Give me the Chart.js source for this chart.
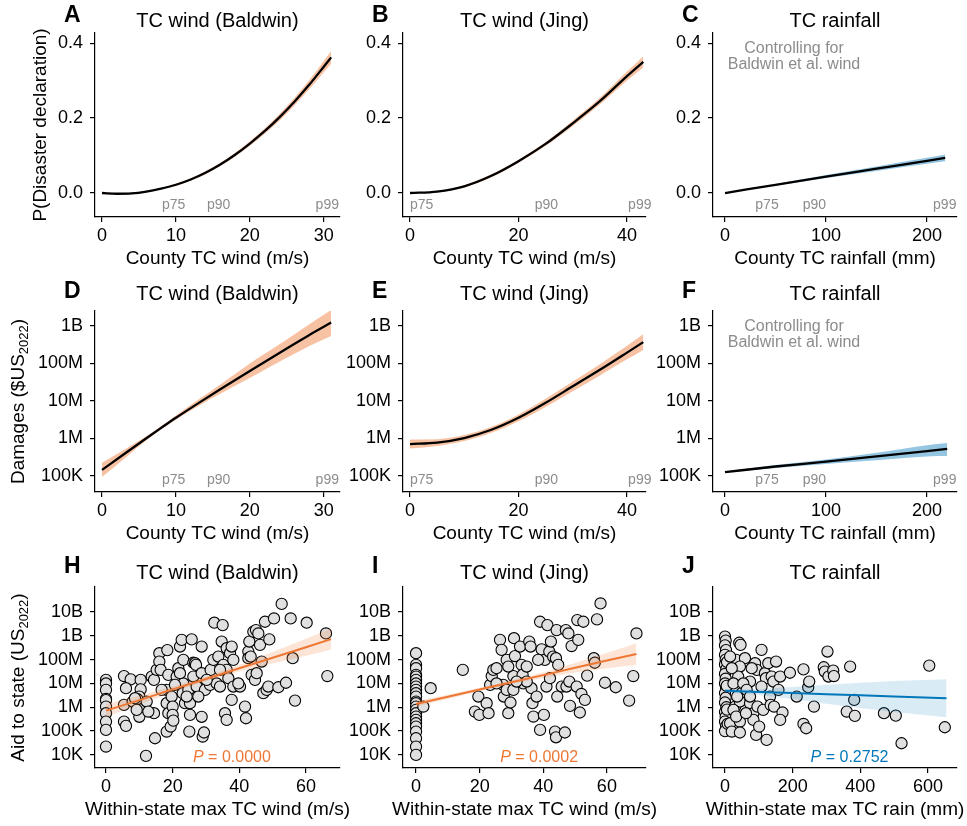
<!DOCTYPE html>
<html>
<head>
<meta charset="utf-8">
<script src="https://cdn.jsdelivr.net/npm/chart.js@4.4.1/dist/chart.umd.min.js"></script>
<style>
  html, body { margin: 0; padding: 0; background: #fff; }
  body { width: 967px; height: 826px; position: relative; overflow: hidden; }
  canvas { position: absolute; }
</style>
</head>
<body>
<script>
// ---------- values ----------

// row 1: P(disaster declaration) vs county exposure
const windBaldwin = [0, 2, 4, 6, 8, 10, 12, 14, 16, 18, 20, 22, 24, 26, 28, 30, 31];
const pDeclBaldwin = [0, -0.002, -0.001, 0.004, 0.012, 0.022, 0.036, 0.054, 0.076, 0.102, 0.132, 0.165, 0.202, 0.243, 0.288, 0.337, 0.362];
const pDeclBaldwinLo = [-0.002, -0.004, -0.003, 0.002, 0.010, 0.019, 0.033, 0.050, 0.072, 0.097, 0.126, 0.158, 0.193, 0.233, 0.276, 0.322, 0.345];
const pDeclBaldwinHi = [0.002, 0.000, 0.001, 0.006, 0.014, 0.025, 0.039, 0.058, 0.080, 0.107, 0.138, 0.172, 0.211, 0.253, 0.300, 0.352, 0.379];

const windJing = [0, 5, 10, 15, 20, 25, 30, 35, 40, 43];
const pDeclJing = [0, 0.004, 0.018, 0.046, 0.085, 0.131, 0.186, 0.245, 0.312, 0.350];
const pDeclJingLo = [-0.002, 0.002, 0.015, 0.042, 0.081, 0.126, 0.179, 0.236, 0.300, 0.335];
const pDeclJingHi = [0.002, 0.006, 0.021, 0.050, 0.089, 0.136, 0.193, 0.254, 0.324, 0.365];

const rainCounty = [0, 50, 100, 150, 200, 218];
const pDeclRain = [0, 0.022, 0.044, 0.065, 0.086, 0.094];
const pDeclRainLo = [-0.001, 0.020, 0.040, 0.059, 0.078, 0.085];
const pDeclRainHi = [0.001, 0.024, 0.048, 0.071, 0.094, 0.103];

// row 2: damages, stored as log10 of $US2022
const windBaldwinDam = [0, 3, 6, 8, 10, 13, 16, 20, 25, 28, 31];
const damBaldwinLog = [5.16, 5.585, 6.005, 6.28, 6.55, 6.935, 7.31, 7.80, 8.40, 8.755, 9.09];
const damBaldwinLoLog = [4.97, 5.46, 5.95, 6.235, 6.50, 6.86, 7.19, 7.61, 8.15, 8.46, 8.73];
const damBaldwinHiLog = [5.35, 5.70, 6.06, 6.325, 6.61, 7.03, 7.44, 8.00, 8.64, 9.04, 9.43];

const damJingLog = [5.85, 5.89, 6.01, 6.23, 6.55, 6.95, 7.39, 7.83, 8.29, 8.57];
const damJingLoLog = [5.73, 5.80, 5.93, 6.15, 6.46, 6.84, 7.26, 7.68, 8.11, 8.36];
const damJingHiLog = [5.97, 5.98, 6.09, 6.31, 6.64, 7.06, 7.52, 7.98, 8.47, 8.78];

const rainCountyDam = [0, 50, 100, 150, 200, 220];
const damRainLog = [5.10, 5.25, 5.38, 5.52, 5.66, 5.72];
const damRainLoLog = [5.09, 5.21, 5.32, 5.42, 5.52, 5.53];
const damRainHiLog = [5.11, 5.29, 5.44, 5.62, 5.82, 5.88];

// row 3: aid to state, [within-state max, log10 aid]
const aidWindBaldwin = [
  [0,7.15],[0,7.0],[0,6.73],[0,6.35],[0,6.3],[0,6.03],[0,5.75],[0,5.4],[0,5.05],[0,4.35],
  [5.4,7.31],[7.4,7.17],[6.0,6.8],[5.4,6.1],[5.4,5.4],[6.0,5.22],[10.4,7.15],[10.4,6.75],[10.0,6.45],[10.7,5.92],
  [10.0,5.6],[9.4,6.34],[8.0,6.24],[12.0,3.96],[13.7,7.29],[14.4,7.15],[14.4,5.75],[14.7,4.7],[15.2,7.57],[16.0,8.27],
  [16.0,7.92],[16.4,7.57],[18.4,8.4],[18.7,7.36],[18.2,6.73],[18.2,6.17],[18.7,5.75],[18.2,4.98],[19.4,5.19],[19.7,6.45],
  [20.0,6.03],[20.0,5.68],[20.2,5.44],[21.2,7.29],[21.7,7.64],[22.2,8.55],[22.7,8.83],[23.2,7.99],[23.2,7.0],[23.0,6.59],
  [23.7,6.17],[24.7,6.73],[25.2,6.17],[25.2,5.68],[25.0,4.98],[25.7,8.85],[26.2,7.87],[26.2,7.29],[26.7,7.85],[27.0,7.78],
  [27.2,6.87],[28.7,8.55],[28.7,7.43],[28.7,5.6],[29.0,4.77],[29.4,4.94],[29.7,6.73],[31.2,6.94],[31.4,7.57],[32.2,7.99],
  [32.5,9.55],[33.2,7.0],[33.7,8.13],[34.7,8.76],[35.0,9.45],[34.2,6.87],[35.2,7.78],[35.7,5.75],[36.2,5.47],[36.2,8.48],
  [36.2,7.57],[36.7,7.22],[37.2,8.27],[37.7,8.55],[37.7,6.31],[38.2,7.99],[38.2,6.87],[40.2,6.87],[41.7,6.03],[42.0,5.54],
  [42.7,8.34],[42.7,8.06],[43.0,8.76],[43.7,7.36],[44.2,9.17],[44.7,7.15],[45.0,9.24],[45.7,9.1],[46.2,8.62],[46.7,7.92],
  [47.2,6.59],[47.7,9.59],[48.2,6.73],[48.7,6.87],[49.0,8.85],[50.4,9.73],[51.7,6.84],[52.7,10.34],[54.0,7.03],[55.4,9.73],
  [56.0,8.06],[56.7,6.28],[60.2,9.55],[66.0,9.1],[66.4,7.31],
  [8.7,6.38],[12.2,6.24],[16.7,6.73],[20.7,6.94],[22.2,7.43],[24.2,6.45],[27.7,6.45],[30.2,7.15],[34.2,7.57],[39.7,7.0],
  [43.4,8.13],[45.2,7.43],[9.2,5.89],[12.7,5.82]
];
const aidWindJing = [
  [0,8.27],[0,7.78],[0,7.64],[0,7.36],[0,7.29],[0,7.15],[0,7.0],[0,6.87],[0,6.73],[0,6.59],[0,6.45],[0,6.24],
  [0,6.17],[0,6.03],[0,5.89],[0,5.75],[0,5.61],[0,5.47],[0,5.33],[0,5.19],[0,4.98],[0,4.7],[0,4.35],[0,4.0],
  [2.3,6.03],[4.6,6.8],[14.7,7.57],[18.5,5.82],[19.6,6.45],[19.9,5.68],[22.2,6.17],[22.8,5.75],[23.3,6.94],[23.8,7.31],
  [24.3,7.57],[25.3,7.64],[26.4,8.83],[26.9,8.41],[27.4,6.94],[27.6,6.45],[28.5,7.99],[28.5,6.73],[29.0,5.75],[29.7,6.2],
  [30.6,7.31],[30.8,8.9],[31.1,8.15],[32.7,8.55],[33.2,7.78],[33.5,7.36],[33.7,7.0],[34.8,7.71],[35.6,8.76],[36.0,8.55],
  [36.3,6.8],[36.6,6.17],[36.9,5.61],[37.9,6.45],[39.0,9.59],[39.0,5.05],[39.5,8.43],[40.2,5.68],[40.5,7.99],[41.0,6.87],
  [41.3,9.45],[41.9,8.34],[42.4,8.76],[43.1,8.13],[44.0,8.06],[44.2,9.24],[44.4,6.45],[43.7,4.98],[44.0,4.74],[44.7,7.78],
  [45.8,6.87],[46.8,4.94],[47.1,9.24],[47.3,6.87],[47.9,9.1],[48.2,7.08],[48.4,6.06],[48.9,8.57],[50.5,6.87],[50.7,9.66],
  [51.0,8.83],[51.5,5.78],[52.0,6.56],[52.6,9.59],[53.1,6.31],[53.8,7.33],[55.9,8.06],[56.2,7.87],[56.9,9.69],[58.0,10.36],
  [59.4,7.03],[62.8,6.84],[67.0,6.28],[68.3,7.31],[69.3,9.1],
  [30.6,6.73],[34.8,7.08],[25.3,7.0],[31.6,7.08],[29.0,7.71],[42.1,7.22],[38.4,7.99]
];
const aidRain = [
  [0,8.97],[2,8.8],[0,8.6],[3,8.4],[0,8.2],[2,8.0],[0,7.8],[4,7.6],[0,7.4],[2,7.2],[0,7.0],[3,6.8],[0,6.6],
  [2,6.4],[0,6.2],[4,6.0],[0,5.8],[2,5.6],[0,5.4],[3,5.2],[0,5.0],[6,7.9],[5,6.9],[6,5.9],[8,5.3],
  [42,8.71],[46,8.62],[33,7.99],[59,8.06],[44,7.71],[39,7.29],[25,7.0],[74,7.08],[49,6.59],[30,6.03],
  [44,6.24],[15,5.33],[44,5.4],[20,4.98],[44,4.94],[89,7.85],[94,7.57],[79,7.64],[74,6.17],[84,5.75],
  [84,5.47],[92,4.84],[96,6.03],[101,5.19],[108,8.41],[118,7.43],[121,7.22],[113,5.89],[123,4.63],[128,7.85],
  [133,6.45],[135,6.1],[138,7.29],[143,7.08],[145,6.03],[151,7.92],[158,6.73],[163,7.29],[170,5.78],[163,5.47],
  [192,7.45],[212,6.45],[232,7.59],[232,5.30],[240,5.12],[246,6.84],[249,7.08],[263,6.03],[292,7.68],[295,7.5],
  [303,8.34],[306,7.29],[320,7.54],[322,7.31],[360,5.82],[370,7.71],[382,6.31],[384,5.64],[470,5.75],[505,5.65],
  [522,4.49],[604,7.75],[650,5.16],
  [15,8.13],[20,7.64],[36,6.45],[54,7.0],[64,6.73],[25,5.89],[74,6.45],[108,6.87],[33,5.61],[62,5.75]
];

// fitted lines (log10 aid) and their bands
const fitWindBaldwinX = [0, 10, 20, 30, 40, 50, 60, 67.5];
const fitWindBaldwin = [5.86, 6.30, 6.75, 7.19, 7.64, 8.08, 8.52, 8.86];
const fitWindBaldwinLo = [5.59, 6.12, 6.63, 7.09, 7.50, 7.84, 8.16, 8.41];
const fitWindBaldwinHi = [6.13, 6.48, 6.87, 7.29, 7.78, 8.32, 8.88, 9.31];

const fitWindJingX = [0, 10, 20, 30, 40, 50, 60, 69.3];
const fitWindJing = [6.14, 6.44, 6.75, 7.05, 7.35, 7.66, 7.96, 8.24];
const fitWindJingLo = [6.02, 6.35, 6.68, 6.98, 7.23, 7.46, 7.64, 7.79];
const fitWindJingHi = [6.26, 6.53, 6.82, 7.12, 7.47, 7.86, 8.28, 8.69];

const fitRainX = [0, 100, 200, 300, 400, 500, 655];
const fitRain = [6.69, 6.64, 6.60, 6.55, 6.50, 6.45, 6.38];
const fitRainLo = [6.62, 6.52, 6.35, 6.15, 5.97, 5.80, 5.58];
const fitRainHi = [6.76, 6.76, 6.85, 6.95, 7.03, 7.10, 7.18];

const pValues = ['0.0000', '0.0002', '0.2752'];

// percentile markers
const pctLabels = ['p75', 'p90', 'p99'];
const pctWindBaldwin = [8.1, 14.2, 28.9];
const pctWindJing = [0, 23, 40.2];
const pctRain = [30, 77, 206];

// ticks
const probTicks = [0, 0.2, 0.4];
const damageTicks = [1e5, 1e6, 1e7, 1e8, 1e9];
const damageTickLabels = ['100K', '1M', '10M', '100M', '1B'];
const aidTicks = [1e4, 1e5, 1e6, 1e7, 1e8, 1e9, 1e10];
const aidTickLabels = ['10K', '100K', '1M', '10M', '100M', '1B', '10B'];
const windTicksCounty = [0, 10, 20, 30];
const windTicksJing = [0, 20, 40];
const rainTicksCounty = [0, 100, 200];
const windTicksState = [0, 20, 40, 60];
const rainTicksState = [0, 200, 400, 600];

// ---------- drawing ----------
const FONT = '"Liberation Sans", Arial, Helvetica, sans-serif';
const ORANGE = '#EE7733';
const BLUE = '#0077BB';
const GREY = '#8c8c8c';
Chart.defaults.font.family = FONT;
Chart.defaults.color = '#000';

const pts = (xs, ys) => xs.map((x, i) => ({ x, y: ys[i] }));
const ptsLog = (xs, ls) => xs.map((x, i) => ({ x, y: Math.pow(10, ls[i]) }));

function bandSets(lo, hi, line, lineColor, bandColor, smooth) {
  const mode = smooth ? 'monotone' : 'default';
  return [
    { data: lo, showLine: true, borderWidth: 0, pointRadius: 0, fill: false, order: 2, cubicInterpolationMode: mode },
    { data: hi, showLine: true, borderWidth: 0, pointRadius: 0, fill: '-1', backgroundColor: bandColor, order: 1, cubicInterpolationMode: mode },
    { data: line, showLine: true, borderColor: lineColor, borderWidth: smooth ? 2.3 : 2, pointRadius: 0, fill: false, order: 0, cubicInterpolationMode: mode }
  ];
}

function drawParts(ctx, parts, size) {
  // parts: [text, isSub]; centred on 0 along the baseline direction
  const widths = parts.map(([t, sub]) => {
    ctx.font = (sub ? Math.round(size * 0.68) : size) + 'px ' + FONT;
    return ctx.measureText(t).width;
  });
  let x = -widths.reduce((a, b) => a + b, 0) / 2;
  parts.forEach(([t, sub], i) => {
    ctx.font = (sub ? Math.round(size * 0.68) : size) + 'px ' + FONT;
    ctx.fillText(t, x, sub ? 5 : 0);
    x += widths[i];
  });
}

const panelText = {
  id: 'panelText',
  afterDraw(chart, args, o) {
    const { ctx, chartArea: a } = chart;
    const xs = chart.scales.x;
    const cx = (a.left + a.right) / 2;
    ctx.save();
    ctx.fillStyle = '#000';
    ctx.textBaseline = 'alphabetic';
    ctx.textAlign = 'left';
    ctx.font = 'bold 23px ' + FONT;
    ctx.fillText(o.letter, a.left - 31, a.top - o.letterDy);
    ctx.textAlign = 'center';
    ctx.font = '20px ' + FONT;
    ctx.fillText(o.title, cx, a.top - o.titleDy);
    ctx.font = '19px ' + FONT;
    ctx.fillText(o.xTitle, cx, a.bottom + 47);

    ctx.save();
    ctx.translate(a.left - o.yTitleDx, (a.top + a.bottom) / 2);
    ctx.rotate(-Math.PI / 2);
    ctx.textAlign = 'left';
    ctx.textBaseline = 'middle';
    drawParts(ctx, o.yTitle, 19);
    ctx.restore();

    ctx.fillStyle = GREY;
    if (o.pct) {
      ctx.font = '14px ' + FONT;
      ctx.textAlign = 'left';
      o.pct.forEach((v, i) => ctx.fillText(pctLabels[i], xs.getPixelForValue(v), a.bottom - 8));
    }
    if (o.note) {
      ctx.font = '16px ' + FONT;
      ctx.textAlign = 'center';
      ctx.fillText('Controlling for', a.left + 81, a.top + 20);
      ctx.fillText('Baldwin et al. wind', a.left + 81, a.top + 36);
    }
    if (o.pValue) {
      ctx.fillStyle = o.pColor;
      ctx.textAlign = 'left';
      let x = a.left + 0.4 * (a.right - a.left);
      ctx.font = 'italic 16px ' + FONT;
      ctx.fillText('P', x, a.bottom - 6);
      x += ctx.measureText('P').width;
      ctx.font = '16px ' + FONT;
      ctx.fillText(' = ' + o.pValue, x, a.bottom - 6);
    }
    ctx.restore();
  }
};

function axisCommon(ticks, fmt) {
  return {
    afterBuildTicks: s => { s.ticks = ticks.map(v => ({ value: v })); },
    grid: { drawOnChartArea: false, drawTicks: true, tickLength: 5, color: '#000', lineWidth: 1.2 },
    border: { display: true, color: '#000', width: 1.2 },
    ticks: { color: '#000', font: { size: 18 }, autoSkip: false, maxRotation: 0, callback: fmt }
  };
}

function makePanel(p) {
  const [L, T, R, B] = p.area;
  const w = R - L + 95 + 12, h = B - T + 33 + 58;
  const c = document.createElement('canvas');
  c.width = w; c.height = h;
  c.style.left = (L - 95) + 'px';
  c.style.top = (T - 33) + 'px';
  c.style.width = w + 'px';
  c.style.height = h + 'px';
  document.body.appendChild(c);

  const x = Object.assign(axisCommon(p.xTicks, v => String(v)), {
    type: 'linear', min: p.xRange[0], max: p.xRange[1],
    afterFit: s => { s.height = 58; }
  });
  x.ticks.padding = 3;
  const y = Object.assign(axisCommon(p.yTicks, p.yFmt), {
    type: p.yLog ? 'logarithmic' : 'linear', min: p.yRange[0], max: p.yRange[1],
    afterFit: s => { s.width = 95; }
  });
  y.ticks.padding = 7;

  new Chart(c, {
    type: 'scatter',
    data: { datasets: p.datasets },
    options: {
      responsive: false,
      animation: false,
      devicePixelRatio: 1,
      layout: { padding: { left: 0, right: 12, top: 33, bottom: 0 } },
      plugins: { legend: { display: false }, tooltip: { enabled: false }, panelText: p.text },
      scales: { x, y }
    },
    plugins: [panelText]
  });
}

const fmtProb = v => v.toFixed(1);
const fmtDam = v => damageTickLabels[damageTicks.indexOf(v)];
const fmtAid = v => aidTickLabels[aidTicks.indexOf(v)];
const orangeBand = 'rgba(238,119,51,0.45)';
const blueBand = 'rgba(0,119,187,0.42)';
const scatterSet = arr => ({
  data: arr.map(([xv, l]) => ({ x: xv, y: Math.pow(10, l) })),
  pointRadius: 5.6, pointBackgroundColor: '#e0e0e0', pointBorderColor: '#000', pointBorderWidth: 1.1, order: 3
});

const probRange = [-0.064, 0.427];
const damRange = [Math.pow(10, 4.57), Math.pow(10, 9.4)];
const aidRange = [Math.pow(10, 3.45), Math.pow(10, 11.05)];
const yTitleProb = [['P(Disaster declaration)', false]];
const yTitleDam = [['Damages ($US', false], ['2022', true], [')', false]];
const yTitleAid = [['Aid to state (US', false], ['2022', true], [')', false]];

const panels = [
  { area: [95, 33, 340, 217], xRange: [-0.95, 32.2], xTicks: windTicksCounty, yTicks: probTicks, yFmt: fmtProb, yRange: probRange,
    datasets: bandSets(pts(windBaldwin, pDeclBaldwinLo), pts(windBaldwin, pDeclBaldwinHi), pts(windBaldwin, pDeclBaldwin), '#000', orangeBand, true),
    text: { letter: 'A', title: 'TC wind (Baldwin)', xTitle: 'County TC wind (m/s)', yTitle: yTitleProb, yTitleDx: 54, letterDy: 11, titleDy: 6, pct: pctWindBaldwin } },
  { area: [403, 33, 646, 217], xRange: [-1.29, 43.5], xTicks: windTicksJing, yTicks: probTicks, yFmt: fmtProb, yRange: probRange,
    datasets: bandSets(pts(windJing, pDeclJingLo), pts(windJing, pDeclJingHi), pts(windJing, pDeclJing), '#000', orangeBand, true),
    text: { letter: 'B', title: 'TC wind (Jing)', xTitle: 'County TC wind (m/s)', yTitle: [], yTitleDx: 54, letterDy: 11, titleDy: 6, pct: pctWindJing } },
  { area: [713, 33, 957, 217], xRange: [-11.9, 229.7], xTicks: rainTicksCounty, yTicks: probTicks, yFmt: fmtProb, yRange: probRange,
    datasets: bandSets(pts(rainCounty, pDeclRainLo), pts(rainCounty, pDeclRainHi), pts(rainCounty, pDeclRain), '#000', blueBand, true),
    text: { letter: 'C', title: 'TC rainfall', xTitle: 'County TC rainfall (mm)', yTitle: [], yTitleDx: 54, letterDy: 11, titleDy: 6, pct: pctRain, note: true } },

  { area: [95, 311, 340, 492], xRange: [-0.95, 32.2], xTicks: windTicksCounty, yTicks: damageTicks, yFmt: fmtDam, yRange: damRange, yLog: true,
    datasets: bandSets(ptsLog(windBaldwinDam, damBaldwinLoLog), ptsLog(windBaldwinDam, damBaldwinHiLog), ptsLog(windBaldwinDam, damBaldwinLog), '#000', orangeBand, true),
    text: { letter: 'D', title: 'TC wind (Baldwin)', xTitle: 'County TC wind (m/s)', yTitle: yTitleDam, yTitleDx: 76, letterDy: 13, titleDy: 11, pct: pctWindBaldwin } },
  { area: [403, 311, 646, 492], xRange: [-1.29, 43.5], xTicks: windTicksJing, yTicks: damageTicks, yFmt: fmtDam, yRange: damRange, yLog: true,
    datasets: bandSets(ptsLog(windJing, damJingLoLog), ptsLog(windJing, damJingHiLog), ptsLog(windJing, damJingLog), '#000', orangeBand, true),
    text: { letter: 'E', title: 'TC wind (Jing)', xTitle: 'County TC wind (m/s)', yTitle: [], yTitleDx: 76, letterDy: 13, titleDy: 11, pct: pctWindJing } },
  { area: [713, 311, 957, 492], xRange: [-11.9, 229.7], xTicks: rainTicksCounty, yTicks: damageTicks, yFmt: fmtDam, yRange: damRange, yLog: true,
    datasets: bandSets(ptsLog(rainCountyDam, damRainLoLog), ptsLog(rainCountyDam, damRainHiLog), ptsLog(rainCountyDam, damRainLog), '#000', blueBand, true),
    text: { letter: 'F', title: 'TC rainfall', xTitle: 'County TC rainfall (mm)', yTitle: [], yTitleDx: 76, letterDy: 13, titleDy: 11, pct: pctRain, note: true } },

  { area: [95, 587, 340, 768], xRange: [-3.3, 70.2], xTicks: windTicksState, yTicks: aidTicks, yFmt: fmtAid, yRange: aidRange, yLog: true,
    datasets: [scatterSet(aidWindBaldwin)].concat(bandSets(ptsLog(fitWindBaldwinX, fitWindBaldwinLo), ptsLog(fitWindBaldwinX, fitWindBaldwinHi), ptsLog(fitWindBaldwinX, fitWindBaldwin), ORANGE, 'rgba(238,119,51,0.2)', false)),
    text: { letter: 'H', title: 'TC wind (Baldwin)', xTitle: 'Within-state max TC wind (m/s)', yTitle: yTitleAid, yTitleDx: 76, letterDy: 14, titleDy: 8, pValue: pValues[0], pColor: ORANGE } },
  { area: [403, 587, 646, 768], xRange: [-4.1, 72.3], xTicks: windTicksState, yTicks: aidTicks, yFmt: fmtAid, yRange: aidRange, yLog: true,
    datasets: [scatterSet(aidWindJing)].concat(bandSets(ptsLog(fitWindJingX, fitWindJingLo), ptsLog(fitWindJingX, fitWindJingHi), ptsLog(fitWindJingX, fitWindJing), ORANGE, 'rgba(238,119,51,0.2)', false)),
    text: { letter: 'I', title: 'TC wind (Jing)', xTitle: 'Within-state max TC wind (m/s)', yTitle: [], yTitleDx: 76, letterDy: 14, titleDy: 8, pValue: pValues[1], pColor: ORANGE } },
  { area: [713, 587, 957, 768], xRange: [-35.5, 686], xTicks: rainTicksState, yTicks: aidTicks, yFmt: fmtAid, yRange: aidRange, yLog: true,
    datasets: [scatterSet(aidRain)].concat(bandSets(ptsLog(fitRainX, fitRainLo), ptsLog(fitRainX, fitRainHi), ptsLog(fitRainX, fitRain), BLUE, 'rgba(0,119,187,0.15)', false)),
    text: { letter: 'J', title: 'TC rainfall', xTitle: 'Within-state max TC rain (mm)', yTitle: [], yTitleDx: 76, letterDy: 14, titleDy: 8, pValue: pValues[2], pColor: BLUE } }
];

panels.forEach(makePanel);
</script>
</body>
</html>
